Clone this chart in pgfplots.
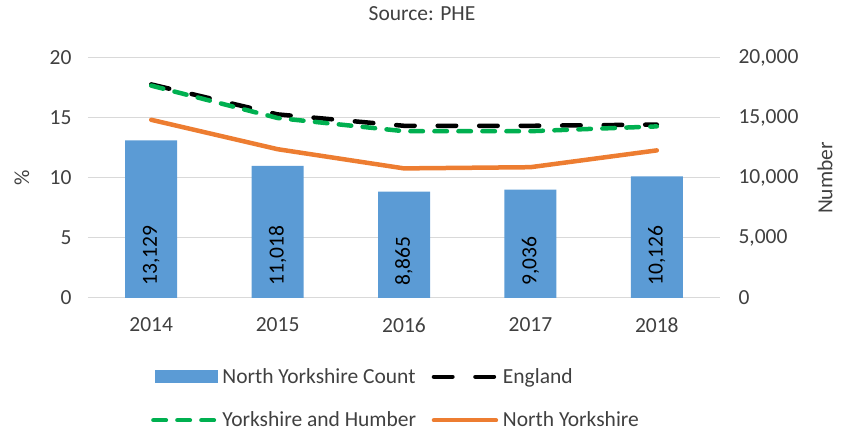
\documentclass[border=0pt]{standalone}
\usepackage{fontspec}
\setmainfont{Carlito}
\usepackage{pgfplots}
\pgfplotsset{compat=1.18}
\definecolor{barblue}{HTML}{5B9BD5}
\definecolor{nyorange}{HTML}{ED7D31}
\definecolor{yhgreen}{HTML}{00B050}
\definecolor{txt}{HTML}{404040}
\definecolor{gridc}{HTML}{D9D9D9}
\newcommand\f{\fontsize{21.5}{25}\selectfont}
\begin{document}
\begin{tikzpicture}[font=\f]
\pgfplotsset{
  common/.style={
    scale only axis, width=632pt, height=240pt,
    xmin=-0.5, xmax=4.5, ymin=0,
    axis line style={draw=none}, major tick length=0pt, tick style={draw=none},
    ticklabel style={font=\f, text=txt},
    /pgf/number format/assume math mode=true,
    /pgf/number format/1000 sep={,},
  },
}
\begin{axis}[common, ymax=20000,
  axis y line*=right, axis x line*=bottom,
  ytick={0,5000,10000,15000,20000}, scaled y ticks=false,
  yticklabel style={anchor=west, xshift=15pt},
  ymajorgrids, grid style={gridc, line width=1pt},
  xtick={0,1,2,3,4}, xticklabels={2014,2015,2016,2017,2018},
  xticklabel style={anchor=north, yshift=-16pt},
  ylabel={Number},
  every axis y label/.style={at={(rel axis cs:1,0.5)}, xshift=105pt, rotate=90, anchor=center, font=\f, text=txt},
]
\addplot[ybar, bar width=52pt, fill=barblue, draw=none]
  coordinates {(0,13129) (1,11018) (2,8865) (3,9036) (4,10126)};
\addplot[draw=none, point meta=explicit, nodes near coords,
  every node near coord/.style={yshift=9pt, rotate=90, anchor=west, text=black, font=\f}]
  coordinates {(0,0) [13129] (1,0) [11018] (2,0) [8865] (3,0) [9036] (4,0) [10126]};
\end{axis}
\begin{axis}[common, ymax=20,
  axis y line*=left, axis x line=none,
  ytick={0,5,10,15,20},
  yticklabel style={anchor=east, xshift=-13pt},
  ylabel={\%},
  every axis y label/.style={at={(rel axis cs:0,0.5)}, xshift=-66pt, rotate=90, anchor=center, font=\f, text=txt},
  title={Source: PHE},
  every axis title/.style={at={(rel axis cs:0.5,1)}, anchor=center, xshift=18pt, yshift=44pt, font=\f, text=txt},
  legend columns=2, legend cell align=left,
  legend style={at={(rel axis cs:0,0)}, anchor=center, xshift=308pt, yshift=-100.5pt,
    draw=none, fill=none, font=\f, text=txt, row sep=23pt,
    /tikz/every even column/.append style={column sep=13.5pt}},
  legend image code/.code={\draw[#1] (0pt,0pt) -- (62pt,0pt); \path[draw=none, fill=none] (0pt,0pt) -- (67pt,0pt);},
]
\addlegendimage{legend image code/.code={\fill[barblue, draw=none] (1.5pt,-6.5pt) rectangle (64.5pt,6.5pt); \path[draw=none, fill=none] (0pt,0pt) -- (67pt,0pt);}}
\addlegendentry{North Yorkshire Count}
\addplot[black, line width=4.5pt, line cap=round, dash pattern=on 18.5pt off 23pt]
  coordinates {(0,17.8) (1,15.3) (2,14.35) (3,14.35) (4,14.45)};
\addlegendentry{England}
\addplot[yhgreen, line width=4.5pt, line cap=round, dash pattern=on 12.5pt off 11.5pt]
  coordinates {(0,17.7) (1,15.0) (2,13.9) (3,13.9) (4,14.3)};
\addlegendentry{Yorkshire and Humber}
\addplot[nyorange, line width=4.5pt, line cap=round]
  coordinates {(0,14.85) (1,12.4) (2,10.8) (3,10.9) (4,12.3)};
\addlegendentry{North Yorkshire}
\end{axis}
\pgfresetboundingbox
\path[use as bounding box] (-88pt,-148pt) rectangle (763pt,298pt);
\end{tikzpicture}
\end{document}
